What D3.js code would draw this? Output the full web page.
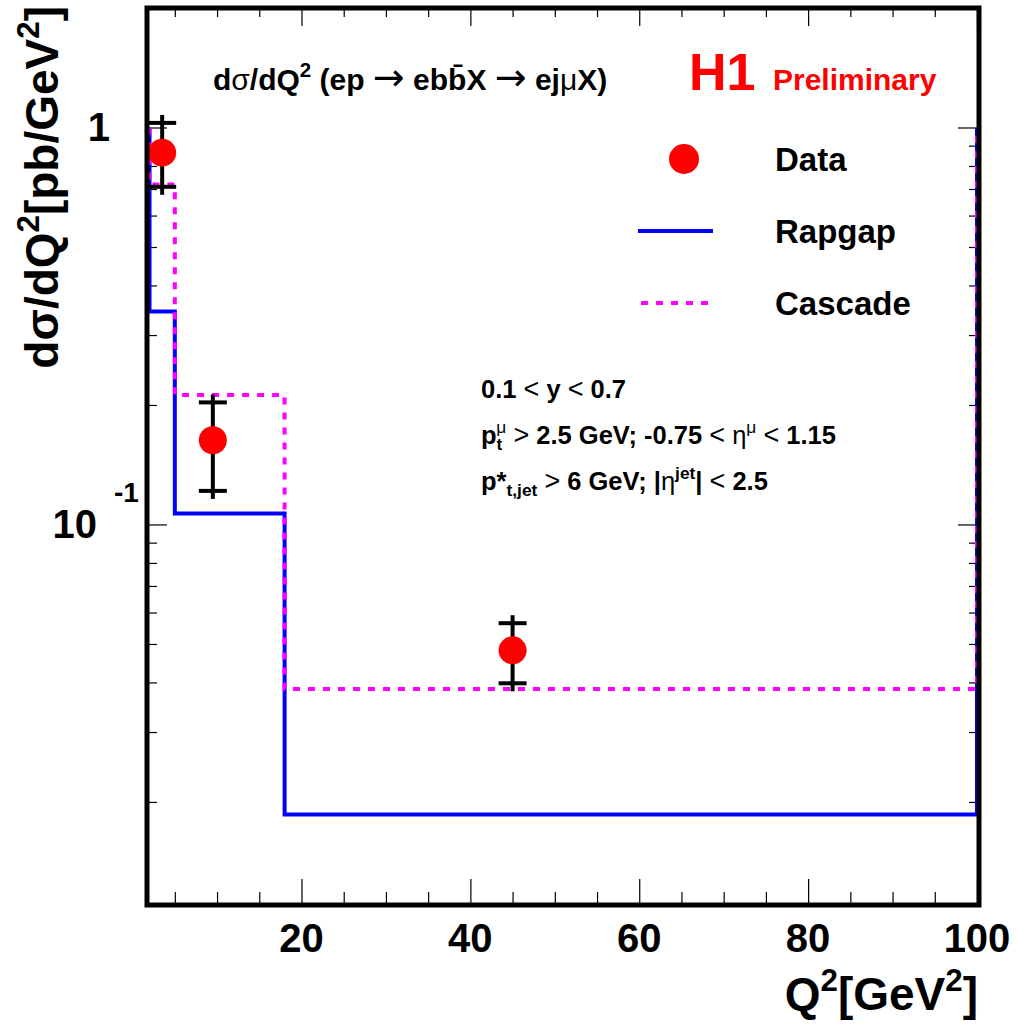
<!DOCTYPE html>
<html>
<head>
<meta charset="utf-8">
<script src="https://cdn.jsdelivr.net/npm/d3@7"></script>
<style>
  body { margin: 0; background: #fff; }
  svg text { font-family: "Liberation Sans", Arial, Helvetica, sans-serif; font-weight: bold; }
</style>
</head>
<body>
<svg id="chart" width="1018" height="1030"></svg>
<script>
// bin edges in Q^2 [GeV^2]
const binEdges = [2, 5, 18, 100];
// MC predictions per bin [pb/GeV^2]
const rapgap = [0.344, 0.1066, 0.0186];
const cascade = [0.718, 0.212, 0.0385];
// level the histogram outline starts from / returns to at the outer edges
const histBase = 1.0;

// measured points
const dataQ2 = [3.5, 9.5, 45];
const dataXsec = [0.864, 0.163, 0.0482];
const dataErrUp = [0.163, 0.040, 0.0082];
const dataErrDown = [0.155, 0.0415, 0.0084];

// axes
const xMajorTicks = [20, 40, 60, 80, 100];
const xMinorTicks = [5, 10, 15, 25, 30, 35, 45, 50, 55, 65, 70, 75, 85, 90, 95];
const yMajorTicks = [0.1, 1];
const yMinorTicks = [0.02, 0.03, 0.04, 0.05, 0.06, 0.07, 0.08, 0.09,
                     0.2, 0.3, 0.4, 0.5, 0.6, 0.7, 0.8, 0.9];

const svg = d3.select('#chart');

const x = d3.scaleLinear().domain([2, 100]).range([149.5, 977]);
const y = d3.scaleLog().domain([0.011, 2]).range([905, 8]);

// ---- ticks (ROOT style, inward on all four sides)
function tickAxis(axisFn, scale, values, size, transform) {
    svg.append('g')
        .attr('transform', transform)
        .call(axisFn(scale).tickValues(values).tickSize(size).tickFormat(''))
        .call(g => g.select('.domain').remove())
        .call(g => g.selectAll('line').attr('stroke', '#000').attr('stroke-width', 1.2));
}
tickAxis(d3.axisBottom, x, xMajorTicks, -26, 'translate(0,905)');
tickAxis(d3.axisBottom, x, xMinorTicks, -13, 'translate(0,905)');
tickAxis(d3.axisTop, x, xMajorTicks, -18, 'translate(0,8)');
tickAxis(d3.axisTop, x, xMinorTicks, -9, 'translate(0,8)');
tickAxis(d3.axisLeft, y, yMajorTicks, -19, 'translate(148,0)');
tickAxis(d3.axisLeft, y, yMinorTicks, -9, 'translate(148,0)');
tickAxis(d3.axisRight, y, yMajorTicks, -20, 'translate(978,0)');
tickAxis(d3.axisRight, y, yMinorTicks, -9, 'translate(978,0)');

// ---- histograms
function outline(vals) {
    const pts = [[binEdges[0], histBase]];
    vals.forEach((v, i) => {
        pts.push([binEdges[i], v]);
        pts.push([binEdges[i + 1], v]);
    });
    pts.push([binEdges[binEdges.length - 1], histBase]);
    return pts;
}
const line = d3.line().x(d => x(d[0])).y(d => y(d[1]));

svg.append('path')
    .attr('d', line(outline(rapgap)))
    .attr('fill', 'none')
    .attr('stroke', '#0000ff')
    .attr('stroke-width', 4);

svg.append('path')
    .attr('d', line(outline(cascade)))
    .attr('fill', 'none')
    .attr('stroke', '#ff00ff')
    .attr('stroke-width', 4)
    .attr('stroke-dasharray', '7,8');

// ---- data points
const pts = dataQ2.map((q, i) => ({
    q, v: dataXsec[i], hi: dataXsec[i] + dataErrUp[i], lo: dataXsec[i] - dataErrDown[i]
}));
const pg = svg.append('g');
pts.forEach(d => {
    const cx = x(d.q);
    pg.append('line')
        .attr('x1', cx).attr('x2', cx)
        .attr('y1', y(d.hi) - 8).attr('y2', y(d.lo) + 8)
        .attr('stroke', '#000').attr('stroke-width', 4);
    [d.hi, d.lo].forEach(e => {
        pg.append('line')
            .attr('x1', cx - 14).attr('x2', cx + 14)
            .attr('y1', y(e)).attr('y2', y(e))
            .attr('stroke', '#000').attr('stroke-width', 4);
    });
    pg.append('circle')
        .attr('cx', cx).attr('cy', y(d.v)).attr('r', 14)
        .attr('fill', '#ff0000');
});

// ---- frame
svg.append('rect')
    .attr('x', 147).attr('y', 8)
    .attr('width', 832).attr('height', 897)
    .attr('fill', 'none')
    .attr('stroke', '#000')
    .attr('stroke-width', 5);

// ---- text helper with sub/superscripts
function rich(sel, size, parts) {
    let shift = 0;
    parts.forEach(p => {
        const [txt, o] = typeof p === 'string' ? [p, {}] : p;
        const fs = o.size || (o.sup || o.sub ? size * 0.68 : size);
        const target = o.sup ? -size * 0.42 : o.sub ? size * 0.25 : 0;
        const t = sel.append('tspan')
            .attr('font-size', fs)
            .attr('dy', target - shift)
            .text(txt);
        if (o.dx) t.attr('dx', o.dx);
        if (o.normal) t.attr('font-weight', 'normal');
        if (o.family) t.attr('font-family', o.family);
        shift = target;
    });
    return sel;
}

// x tick labels
svg.append('g').selectAll('text')
    .data(xMajorTicks)
    .join('text')
    .attr('x', d => x(d))
    .attr('y', 952)
    .attr('text-anchor', 'middle')
    .attr('font-size', 40)
    .text(d => d);

// y tick labels
svg.append('text')
    .attr('x', 110).attr('y', y(1) + 14)
    .attr('text-anchor', 'end')
    .attr('font-size', 40)
    .text('1');
svg.append('text')
    .attr('x', 97).attr('y', y(0.1) + 14)
    .attr('text-anchor', 'end')
    .attr('font-size', 40)
    .text('10');
svg.append('text')
    .attr('x', 114).attr('y', y(0.1) - 22)
    .attr('font-size', 28)
    .text('-1');

// axis titles
rich(svg.append('text')
    .attr('x', 978).attr('y', 1010)
    .attr('text-anchor', 'end')
    .attr('font-size', 46), 46,
    ['Q', ['2', { sup: true }], '[GeV', ['2', { sup: true }], ']']);

rich(svg.append('text')
    .attr('transform', 'translate(58,6) rotate(-90)')
    .attr('text-anchor', 'end')
    .attr('font-size', 46), 46,
    ['d\u03c3/dQ', ['2', { sup: true }], '[pb/GeV', ['2', { sup: true }], ']']);

// plot title
const arrow = { normal: true, size: 38, family: 'DejaVu Sans' };
rich(svg.append('text')
    .attr('x', 213).attr('y', 90)
    .attr('font-size', 30), 30,
    ['d', ['\u03c3', { normal: true }], '/dQ', ['2', { sup: true }], ' (ep ',
     ['\u2192', arrow], ' eb', 'b\u0304', 'X ',
     ['\u2192', arrow], ' ej', ['\u03bc', { normal: true }], 'X)']);

// H1 Preliminary
svg.append('text')
    .attr('x', 689).attr('y', 90)
    .attr('font-size', 52)
    .attr('fill', '#ff0000')
    .text('H1');
svg.append('text')
    .attr('x', 773).attr('y', 90)
    .attr('font-size', 30)
    .attr('fill', '#ff0000')
    .text('Preliminary');

// legend
const lg = svg.append('g');
lg.append('circle').attr('cx', 684).attr('cy', 159).attr('r', 15).attr('fill', '#ff0000');
lg.append('line').attr('x1', 638).attr('x2', 713).attr('y1', 231).attr('y2', 231)
    .attr('stroke', '#0000ff').attr('stroke-width', 4);
lg.append('line').attr('x1', 641).attr('x2', 713).attr('y1', 303).attr('y2', 303)
    .attr('stroke', '#ff00ff').attr('stroke-width', 4).attr('stroke-dasharray', '7,8');
lg.selectAll('text')
    .data([['Data', 171], ['Rapgap', 243], ['Cascade', 315]])
    .join('text')
    .attr('x', 775)
    .attr('y', d => d[1])
    .attr('font-size', 33)
    .text(d => d[0]);

// selection cuts
const lt = { normal: true, size: 27 };
const cuts = svg.append('g').attr('font-size', 25.5);
rich(cuts.append('text').attr('x', 481).attr('y', 398), 25.5,
    ['0.1 ', ['<', lt], ' y ', ['<', lt], ' 0.7']);
rich(cuts.append('text').attr('x', 481).attr('y', 444), 25.5,
    ['p', ['t', { sub: true }], ['\u03bc', { sup: true, normal: true, dx: -6 }],
     ' ', ['>', lt], ' 2.5 GeV; -0.75 ', ['<', lt], ' ',
     ['\u03b7', { normal: true }], ['\u03bc', { sup: true, normal: true }],
     ' ', ['<', lt], ' 1.15']);
rich(cuts.append('text').attr('x', 481).attr('y', 490), 25.5,
    ['p*', ['t,jet', { sub: true }], ' ', ['>', lt], ' 6 GeV; |',
     ['\u03b7', { normal: true }], ['jet', { sup: true }], '| ',
     ['<', lt], ' 2.5']);
</script>
</body>
</html>
